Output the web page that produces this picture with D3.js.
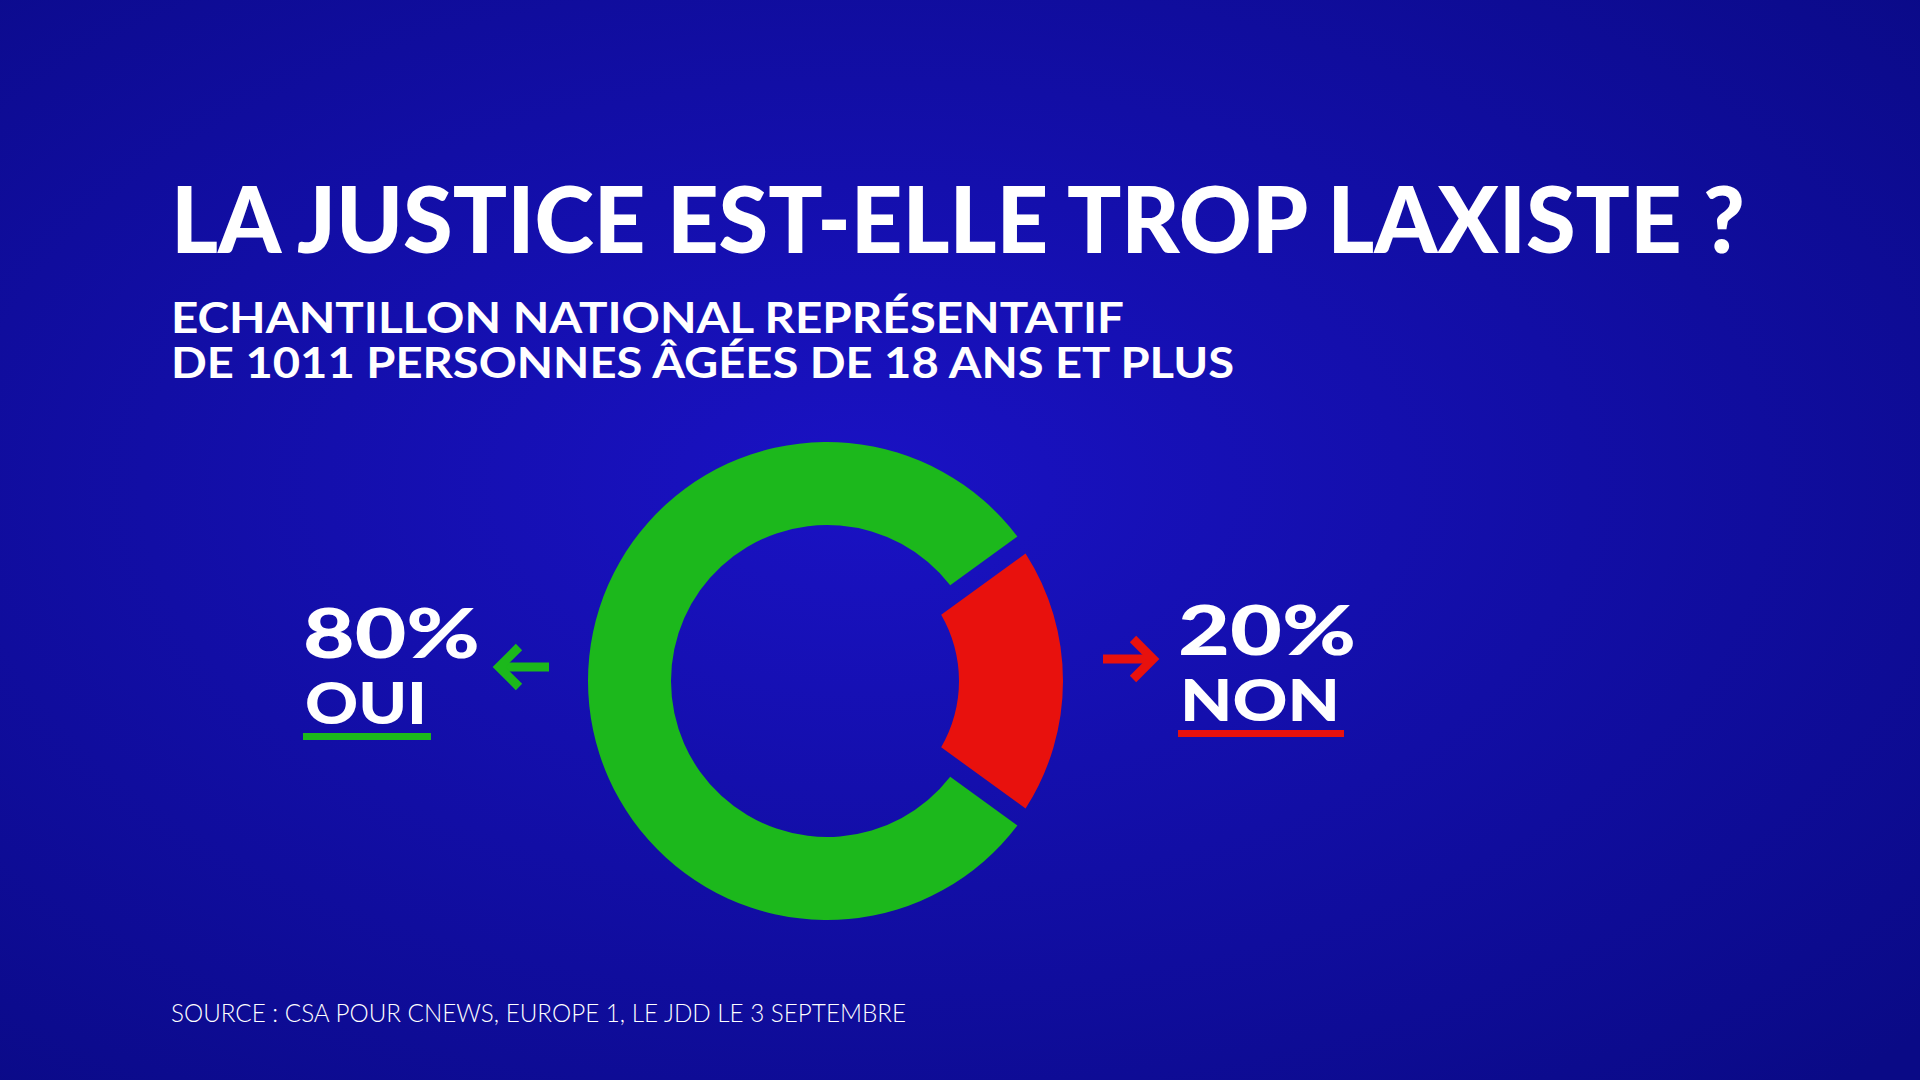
<!DOCTYPE html>
<html><head><meta charset="utf-8">
<script src="https://cdn.jsdelivr.net/npm/d3@7"></script>
<style>html,body{margin:0;padding:0;background:#0b0a8a;overflow:hidden}</style>
</head><body>
<svg id="chart" width="1920" height="1080"></svg>
<script>
// Poll data
const answers = ['OUI', 'NON'];
const shares = [80, 20];
const sliceColors = ['#1cb81c', '#e8110d'];

const title = 'LA JUSTICE EST-ELLE TROP LAXISTE ?';
const subtitle = ['ECHANTILLON NATIONAL REPRÉSENTATIF', 'DE 1011 PERSONNES ÂGÉES DE 18 ANS ET PLUS'];
const source = 'SOURCE : CSA POUR CNEWS, EUROPE 1, LE JDD LE 3 SEPTEMBRE';

const svg = d3.select('#chart');
const font = 'Lato, "Open Sans", sans-serif';

// Background gradient
const defs = svg.append('defs');
const grad = defs.append('radialGradient').attr('id', 'bg')
  .attr('cx', '45%').attr('cy', '45%').attr('r', '75%');
grad.append('stop').attr('offset', '0%').attr('stop-color', '#1a12c4');
grad.append('stop').attr('offset', '100%').attr('stop-color', '#0a0a86');
svg.append('rect').attr('width', 1920).attr('height', 1080).attr('fill', 'url(#bg)');

// Titles
svg.append('text').attr('x', 171).attr('y', 253).text(title)
  .attr('fill', '#fff').attr('font-family', font).attr('font-weight', 900)
  .attr('font-size', 92).attr('textLength', 1574).attr('lengthAdjust', 'spacingAndGlyphs');
const subW = [953, 1063];
subtitle.forEach((s, i) => {
  svg.append('text').attr('x', 171).attr('y', 333 + i * 45).text(s)
    .attr('fill', '#fff').attr('font-family', font).attr('font-weight', 700)
    .attr('font-size', 42).attr('textLength', subW[i]).attr('lengthAdjust', 'spacingAndGlyphs');
});

// Donut
const cx = 827, cy = 681;
const pie = d3.pie().sort(null).value(d => d.value)
  .startAngle(Math.PI * 126 / 180).endAngle(Math.PI * (126 + 360) / 180);
const data = answers.map((a, i) => ({ label: a, value: shares[i], color: sliceColors[i] }));
const arcs = pie(data);
const g = svg.append('g').attr('transform', `translate(${cx},${cy})`);
const arcGreen = d3.arc().innerRadius(156).outerRadius(239).padAngle(0.035);
const arcRed = d3.arc().innerRadius(132).outerRadius(236).padAngle(0.1);
g.selectAll('path').data(arcs).join('path')
  .attr('d', (d, i) => (i === 0 ? arcGreen : arcRed)(d))
  .attr('fill', d => d.data.color);

// Labels
function label(x, y, pct, name, color, w1, w2, arrowX, arrowY, dir) {
  svg.append('text').attr('x', x).attr('y', y).text(pct + '%')
    .attr('fill', '#fff').attr('font-family', font).attr('font-weight', 900)
    .attr('font-size', 68).attr('textLength', w1).attr('lengthAdjust', 'spacingAndGlyphs');
  svg.append('text').attr('x', x + 2).attr('y', y + 66).text(name)
    .attr('fill', '#fff').attr('font-family', font).attr('font-weight', 900)
    .attr('font-size', 58).attr('textLength', w2).attr('lengthAdjust', 'spacingAndGlyphs');
  svg.append('rect').attr('x', x).attr('y', y + 75).attr('width', w2 + 6).attr('height', 7).attr('fill', color);
  // arrow
  const a = svg.append('g').attr('transform', `translate(${arrowX},${arrowY}) scale(${dir},1)`)
    .attr('stroke', color).attr('stroke-width', 9).attr('fill', 'none')
    .attr('stroke-linecap', 'butt').attr('stroke-linejoin', 'miter');
  a.append('line').attr('x1', -26).attr('y1', 0).attr('x2', 24).attr('y2', 0);
  a.append('polyline').attr('points', '4,-20 24,0 4,20');
}
label(303, 658, shares[0], answers[0], sliceColors[0], 177, 122, 523, 667, -1);
label(1178, 655, shares[1], answers[1], sliceColors[1], 178, 160, 1129, 659, 1);

// Source
svg.append('text').attr('x', 171).attr('y', 1022).text(source)
  .attr('fill', '#fff').attr('font-family', font).attr('font-weight', 300)
  .attr('font-size', 26).attr('textLength', 735).attr('lengthAdjust', 'spacingAndGlyphs');
</script>
</body></html>
